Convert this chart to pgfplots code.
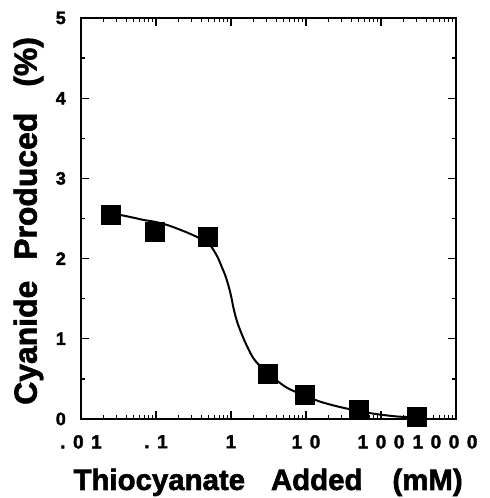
\documentclass[border=0pt]{standalone}
\usepackage{pgfplots}
\pgfplotsset{compat=1.18}
\usepackage{fontspec}
\setmainfont{Liberation Sans}[BoldFeatures={FakeBold=2}]
\newfontfamily\tickfont{Liberation Sans}[LetterSpace=40, BoldFeatures={FakeBold=2}]
\begin{document}
\begin{tikzpicture}
\begin{axis}[
 scale only axis, width=375bp, height=401bp,
 xmode=log, xmin=0.01, xmax=1000, ymin=0, ymax=5,
 xtick={0.01,0.1,1,10,100,1000},
 xticklabels={.01,.1,1,10,100,\hspace{-22bp}1000},
 minor xtick={0.02,0.03,0.04,0.05,0.06,0.07,0.08,0.09,0.2,0.3,0.4,0.5,0.6,0.7,0.8,0.9,2,3,4,5,6,7,8,9,20,30,40,50,60,70,80,90,200,300,400,500,600,700,800,900},
 ytick={0,1,2,3,4,5},
 yticklabels={0,1,2,3,4,5},
 minor ytick={0.5,1.5,2.5,3.5,4.5},
 tick align=inside,
 major tick length=8bp, minor tick length=4bp,
 every tick/.style={black, line width=1.3bp},
 axis line style={line width=2.3bp},
 xticklabel style={font=\tickfont\bfseries\fontsize{19}{19}\selectfont, inner sep=0pt, anchor=north, yshift=-16bp},
 yticklabel style={font=\bfseries\fontsize{18}{18}\selectfont, inner sep=0pt, anchor=east, xshift=-15bp},
 xlabel={Thiocyanate\hspace{26bp}Added\hspace{30bp}(mM)},
 xlabel style={font=\bfseries\fontsize{29.5}{29.5}\selectfont, inner sep=0pt, at={(axis description cs:0.499,-0.177)}, anchor=base},
 ylabel={Cyanide\hspace{21bp}Produced\hspace{26bp}(\%)},
 ylabel style={font=\bfseries\fontsize{32}{32}\selectfont, inner sep=0pt, at={(axis description cs:-0.1,0.494)}, anchor=south},
 clip=false,
]
\addplot[black, line width=2bp, smooth, tension=0.5, mark=none] coordinates {
(0.025,2.56) (0.035,2.54) (0.05,2.51) (0.07,2.48) (0.095,2.46) (0.14,2.42)
(0.21,2.36) (0.3,2.30) (0.39,2.25) (0.46,2.21) (0.525,2.17) (0.6,2.09)
(0.678,2.00) (0.75,1.90) (0.832,1.80) (0.90,1.70) (0.97,1.59) (1.02,1.50)
(1.07,1.40) (1.15,1.28) (1.25,1.17) (1.54,0.96) (1.98,0.76) (2.56,0.64)
(3.05,0.57) (4.06,0.48) (5.81,0.38) (9.7,0.29) (15,0.22) (23,0.17)
(35,0.13) (50,0.10) (75,0.07) (107,0.05) (170,0.03) (300,0.02)
};
\addplot[black, only marks, mark=square*, mark size=9.5bp] coordinates {
(0.025,2.55) (0.095,2.34) (0.49,2.27) (3.05,0.57) (9.7,0.30) (50,0.11) (300,0.03)
};
\end{axis}
\pgfresetboundingbox
\path[use as bounding box] ([shift={(-81bp,-79bp)}]current axis.south west) rectangle ([shift={(33bp,18bp)}]current axis.north east);
\end{tikzpicture}
\end{document}
